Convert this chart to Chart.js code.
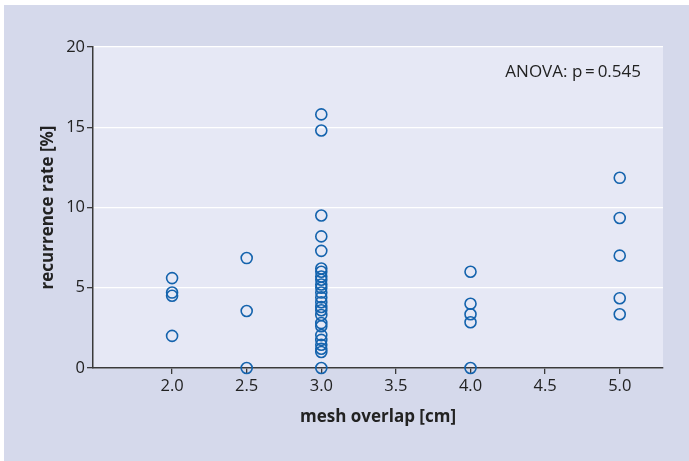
<!DOCTYPE html>
<html>
<head>
<meta charset="utf-8">
<script src="https://cdn.jsdelivr.net/npm/chart.js@4.4.1/dist/chart.umd.min.js"></script>
<style>
  html, body { margin: 0; padding: 0; background: #ffffff; }
  #panel { position: absolute; left: 4px; top: 5px; width: 685px; height: 456px; background: #d5d9eb; }
</style>
</head>
<body>
<div id="panel"><canvas id="myChart" width="685" height="456"></canvas></div>
<script>
// mesh overlap [cm] vs recurrence rate [%]
var overlap2_0 = [5.6, 4.7, 4.5, 2.0];
var overlap2_5 = [6.85, 3.55, 0];
var overlap3_0 = [15.8, 14.8, 9.5, 8.2, 7.3, 6.2, 6.0, 5.7, 5.5, 5.2, 5.0, 4.7, 4.4, 4.1, 3.8, 3.6, 3.3, 2.8, 2.6, 2.05, 1.75, 1.45, 1.2, 1.0, 0];
var overlap4_0 = [6.0, 4.0, 3.35, 2.85, 0];
var overlap5_0 = [11.85, 9.35, 7.0, 4.35, 3.35];
var xTicks = [2.0, 2.5, 3.0, 3.5, 4.0, 4.5, 5.0];
var yTicks = [0, 5, 10, 15, 20];
var annotation = 'ANOVA: p\u2009=\u20090.545';

var groups = [[2.0, overlap2_0], [2.5, overlap2_5], [3.0, overlap3_0], [4.0, overlap4_0], [5.0, overlap5_0]];
var points = [];
groups.forEach(g => {
    g[1].forEach(v => points.push({ x: g[0], y: v }));
});

var fontFam = '"Open Sans", "Noto Sans", sans-serif';
var axisColor = '#3a3a3a';

var plotBg = {
    id: 'plotBg',
    beforeDraw(chart) {
        var a = chart.chartArea, ctx = chart.ctx;
        ctx.save();
        ctx.fillStyle = '#e6e8f5';
        ctx.fillRect(a.left, a.top, a.right - a.left, a.bottom - a.top);
        ctx.restore();
    },
    afterDraw(chart) {
        var a = chart.chartArea, ctx = chart.ctx;
        ctx.save();
        ctx.font = '17px ' + fontFam;
        ctx.fillStyle = '#222';
        ctx.textAlign = 'right';
        ctx.textBaseline = 'middle';
        ctx.fillText(annotation, a.right - 22, a.top + 25);
        ctx.restore();
    }
};

var ctx = document.getElementById('myChart').getContext('2d');
var chart = new Chart(ctx, {
    type: 'scatter',
    data: {
        datasets: [{
            data: points,
            borderColor: '#1463ad',
            backgroundColor: 'rgba(0,0,0,0)',
            borderWidth: 1.6,
            pointRadius: 5.5,
            pointHoverRadius: 5.5,
            clip: false
        }]
    },
    options: {
        responsive: false,
        animation: false,
        layout: { padding: { left: 0, top: 42, right: 26, bottom: 0 } },
        plugins: { legend: { display: false }, tooltip: { enabled: false } },
        scales: {
            x: {
                type: 'linear',
                min: 1.47,
                max: 5.29,
                afterFit(scale) { scale.height = 93; },
                afterBuildTicks(scale) { scale.ticks = xTicks.map(v => ({ value: v })); },
                grid: { drawOnChartArea: false, drawTicks: true, tickLength: 6, color: axisColor, tickColor: axisColor, lineWidth: 1.3 },
                border: { color: axisColor, width: 1.5 },
                ticks: { padding: 2, color: '#222', font: { size: 16.5, family: fontFam }, callback: v => Number(v).toFixed(1) },
                title: { display: true, text: 'mesh overlap [cm]', color: '#222', font: { size: 17, weight: 'bold', family: fontFam }, padding: { top: 0, bottom: 34 } }
            },
            y: {
                min: 0,
                max: 20,
                afterFit(scale) { scale.width = 89; },
                afterBuildTicks(scale) { scale.ticks = yTicks.map(v => ({ value: v })); },
                grid: { color: '#ffffff', lineWidth: 1.3, tickLength: 6, tickColor: axisColor },
                border: { color: axisColor, width: 1.5 },
                ticks: { padding: 2, color: '#222', font: { size: 16.5, family: fontFam } },
                title: { display: true, text: 'recurrence rate [%]', color: '#222', font: { size: 17, weight: 'bold', family: fontFam }, padding: { top: 34, bottom: 0 } }
            }
        }
    },
    plugins: [plotBg]
});
</script>
</body>
</html>
